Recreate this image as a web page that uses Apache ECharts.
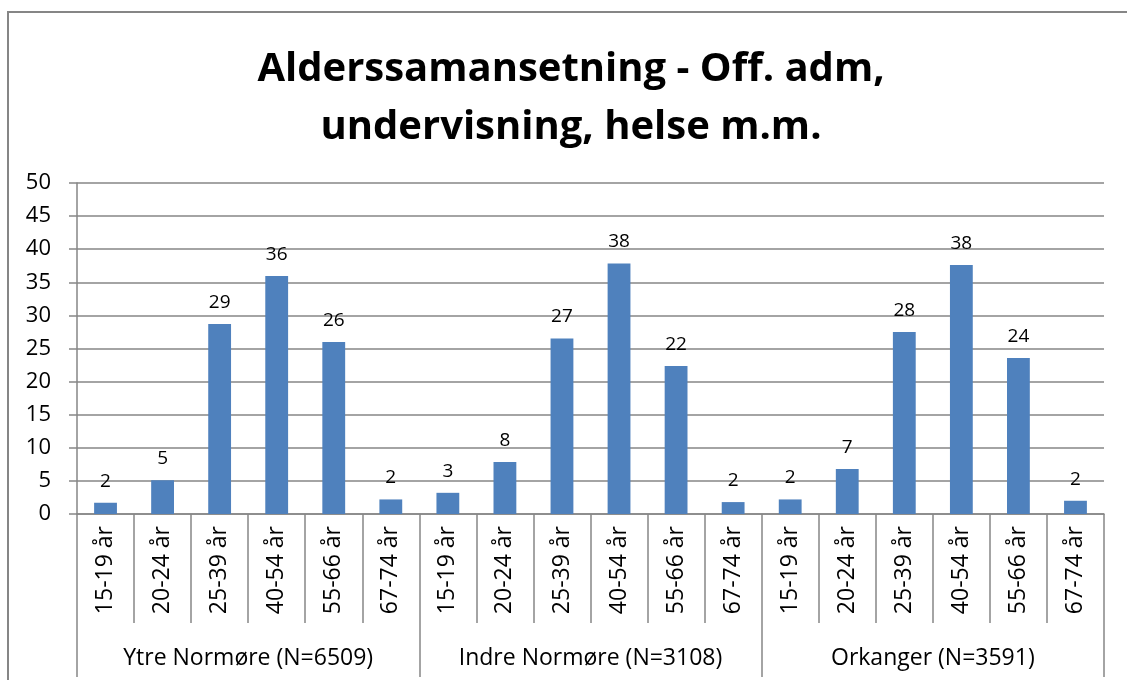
<!DOCTYPE html>
<html>
<head>
<meta charset="utf-8">
<script src="https://cdn.jsdelivr.net/npm/echarts@6/dist/echarts.min.js"></script>
<style>
  html, body { margin: 0; padding: 0; background: #fff; }
  #chart { width: 1127px; height: 680px; }
</style>
</head>
<body>
<div id="chart"></div>
<script>
// aldersgrupper og regioner
const ageGroups = ['15-19 år', '20-24 år', '25-39 år', '40-54 år', '55-66 år', '67-74 år']
const regions = ['Ytre Normøre (N=6509)', 'Indre Normøre (N=3108)', 'Orkanger (N=3591)']

// prosentandel per aldersgruppe
const ytreValues = [1.7, 5.1, 28.7, 35.95, 26.0, 2.2]
const indreValues = [3.2, 7.85, 26.5, 37.85, 22.35, 1.8]
const orkangerValues = [2.2, 6.8, 27.5, 37.6, 23.55, 2.0]

const yTicks = [0, 5, 10, 15, 20, 25, 30, 35, 40, 45, 50]

const font = '"Open Sans", "Liberation Sans", sans-serif'
const gray = '#868686'

const categories = regions.flatMap(() => ageGroups)
const values = [...ytreValues, ...indreValues, ...orkangerValues]

const chart = echarts.init(document.getElementById('chart'))

const option = {
  backgroundColor: '#fff',
  animation: false,
  title: {
    text: 'Alderssamansetning - Off. adm,\nundervisning, helse m.m.',
    left: 566,
    textAlign: 'center',
    top: 36,
    textStyle: {
      fontFamily: font,
      fontSize: 40,
      fontWeight: 'bold',
      color: '#000',
      lineHeight: 58,
    },
  },
  graphic: [
    {
      type: 'polyline',
      shape: { points: [[8, 690], [8, 12], [1140, 12]] },
      style: { stroke: gray, lineWidth: 2, fill: null },
    },
  ],
  grid: {
    left: 77,
    right: 23,
    top: 183,
    bottom: 166,
  },
  xAxis: [
    {
      type: 'category',
      data: categories,
      position: 'bottom',
      boundaryGap: true,
      axisLine: { lineStyle: { color: gray, width: 1.5 } },
      axisTick: { show: true, interval: 0, length: 109, lineStyle: { color: gray, width: 1.5 } },
      axisLabel: {
        interval: 0,
        rotate: 90,
        margin: 12,
        fontFamily: font,
        fontSize: 23,
        color: '#000',
      },
    },
    {
      type: 'category',
      data: regions,
      position: 'bottom',
      offset: 109,
      boundaryGap: true,
      axisLine: { show: false },
      axisTick: { show: true, interval: 0, length: 54, lineStyle: { color: gray, width: 1.5 } },
      axisLabel: {
        interval: 0,
        margin: 24,
        fontFamily: font,
        fontSize: 23,
        color: '#000',
      },
    },
  ],
  yAxis: {
    type: 'value',
    min: yTicks[0],
    max: yTicks[yTicks.length - 1],
    interval: 5,
    axisLine: { show: true, lineStyle: { color: gray, width: 1.5 } },
    axisTick: { show: true, length: 8, lineStyle: { color: gray, width: 1.5 } },
    axisLabel: {
      margin: 26,
      fontFamily: font,
      fontSize: 22,
      color: '#000',
    },
    splitLine: { show: true, lineStyle: { color: gray, width: 1.5 } },
  },
  series: [
    {
      type: 'bar',
      xAxisIndex: 0,
      data: values,
      barWidth: '40%',
      itemStyle: { color: '#4F81BD' },
      label: {
        show: true,
        position: 'top',
        distance: 12,
        fontFamily: font,
        fontSize: 19,
        color: '#000',
        formatter: p => Math.round(p.value),
      },
    },
  ],
}

chart.setOption(option)
</script>
</body>
</html>
